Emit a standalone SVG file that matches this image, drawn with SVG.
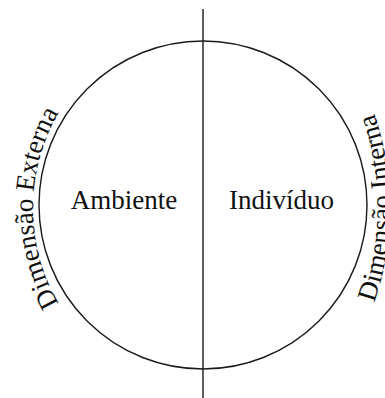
<svg xmlns="http://www.w3.org/2000/svg" width="385" height="398" viewBox="0 0 385 398">
  <style>
    .label { font-family: "Liberation Serif", "Times New Roman", serif; font-size: 27px; fill: #111; }
    .rim { fill: none; stroke: #1a1a1a; stroke-width: 1.4; }
  </style>
  <defs>
    <!-- baselines for the curved side captions, both running bottom to top -->
    <path id="arc-left" d="M203,388 A170,180 0 0 1 203,28"/>
    <path id="arc-right" d="M203,443 A187,235 0 0 0 203,-27"/>
  </defs>
  <rect width="385" height="398" fill="#fff"/>

  <g id="circle">
    <circle class="rim" cx="203" cy="205" r="164"/>
  </g>

  <g id="connectors">
    <line class="rim" x1="203" y1="9" x2="203" y2="398"/>
  </g>

  <g id="ambiente">
    <text class="label" x="124" y="209" text-anchor="middle">Ambiente</text>
  </g>

  <g id="individuo">
    <text class="label" x="281.5" y="209" text-anchor="middle">Indivíduo</text>
  </g>

  <g id="dimensao-externa">
    <text class="label" text-anchor="middle"><textPath href="#arc-left" startOffset="50%">Dimensão Externa</textPath></text>
  </g>

  <g id="dimensao-interna">
    <text class="label" text-anchor="middle"><textPath href="#arc-right" startOffset="50%">Dimensão Interna</textPath></text>
  </g>
</svg>
